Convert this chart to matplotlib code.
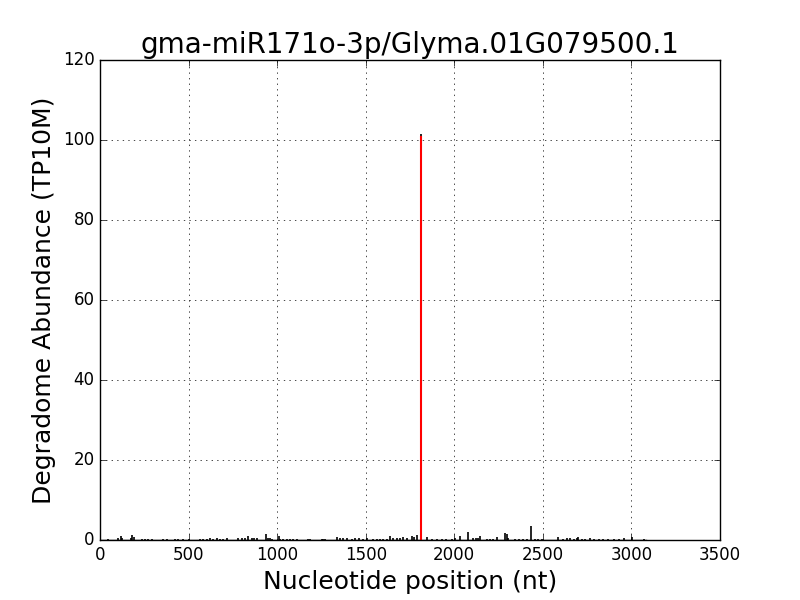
import matplotlib
matplotlib.use("Agg")
import matplotlib.pyplot as plt

# degradome profile: position (nt) and abundance (TP10M)
positions = [47, 103, 117, 126, 173, 183, 192, 235, 254, 273, 292, 357, 376, 423, 442,
             470, 500, 565, 583, 602, 621, 640, 659, 678, 697, 715, 781, 800, 818, 837,
             856, 870, 885,
             937, 950, 960, 970, 1009, 1016, 1035, 1054, 1073, 1092, 1110, 1176, 1185,
             1251, 1260, 1270, 1336, 1355, 1374, 1392, 1420, 1440, 1460, 1486, 1505,
             1543, 1562, 1580, 1599, 1618, 1637, 1656, 1675, 1694, 1713, 1732, 1760,
             1775, 1788, 1810,
             1844, 1872, 1900, 1928, 1956, 1985, 2004, 2032, 2079, 2107, 2122, 2136,
             2145, 2183, 2201, 2220, 2243, 2286, 2296, 2305, 2343, 2367, 2390, 2409,
             2433, 2456, 2475, 2493, 2587, 2615, 2635, 2655, 2675, 2690, 2700,
             2719, 2740, 2766, 2790, 2815, 2840, 2870, 2900, 2930, 2960, 3001, 3073]
abundance = [0.3, 0.4, 1.0, 0.5, 0.6, 1.3, 0.8, 0.3, 0.3, 0.3, 0.3, 0.3, 0.3, 0.3, 0.3,
             0.3, 0.3, 0.3, 0.3, 0.3, 0.4, 0.3, 0.4, 0.3, 0.3, 0.4, 0.4, 0.6, 0.5, 1.0,
             0.6, 0.4, 0.5,
             1.5, 0.4, 0.4, 0.3, 1.0, 0.3, 0.3, 0.3, 0.3, 0.3, 0.3, 0.2, 0.2,
             0.3, 0.3, 0.3, 0.8, 0.5, 0.4, 0.5, 0.3, 0.4, 0.5, 0.3, 0.6,
             0.3, 0.3, 0.3, 0.3, 0.3, 0.9, 0.4, 0.6, 0.5, 0.8, 0.6, 1.0,
             0.7, 1.2, 101.5,
             0.8, 0.3, 0.3, 0.3, 0.3, 0.3, 0.5, 1.0, 2.0, 0.5, 0.4, 0.5,
             0.9, 0.3, 0.3, 0.3, 0.8, 1.8, 1.6, 0.6, 0.3, 0.3, 0.3, 0.3,
             3.5, 0.3, 0.3, 0.3, 0.8, 0.3, 0.4, 0.5, 0.3, 0.4, 0.8,
             0.3, 0.3, 0.6, 0.3, 0.3, 0.3, 0.3, 0.3, 0.3, 0.6, 0.8, 0.3]

cleavage_site = 1810
cleavage_value = 101.0

plt.style.use("classic")
fig = plt.figure(figsize=(8, 6), dpi=100, facecolor="white")
ax = fig.add_subplot(111)

ax.vlines(positions, 0, abundance, colors="black", linewidth=1.2)
ax.plot([0, 3080], [0, 0], color="black", linewidth=1)
ax.vlines([cleavage_site], 0, [cleavage_value], colors="red", linewidth=1.5)

ax.set_xlim(0, 3500)
ax.set_ylim(0, 120)
ax.grid(True)
ax.set_title("gma-miR171o-3p/Glyma.01G079500.1", fontsize=20)
ax.set_xlabel("Nucleotide position (nt)", fontsize=18)
ax.set_ylabel("Degradome Abundance (TP10M)", fontsize=18)
ax.tick_params(labelsize=12)

fig.savefig("out.png", dpi=100, facecolor="white")
